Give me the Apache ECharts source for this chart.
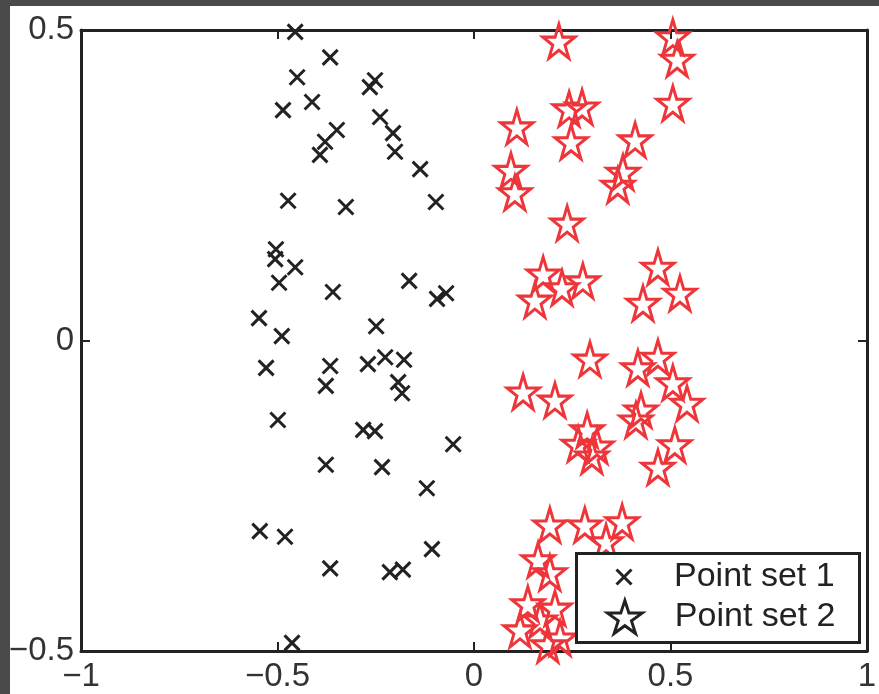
<!DOCTYPE html>
<html lang="en">
<head>
<meta charset="UTF-8">
<title>Point sets</title>
<script src="https://cdn.jsdelivr.net/npm/echarts@6/dist/echarts.min.js"></script>
<style>
  body { margin: 0; background: #4a4a4a; }
  #main { position: absolute; left: 10px; top: 6px; width: 869px; height: 688px; background: #fff; }
</style>
</head>
<body>
<div id="main"></div>
<script>
// point set 1 (black crosses)
const set1 = [
  [-0.455, 0.497], [-0.366, 0.456], [-0.450, 0.424], [-0.252, 0.419], [-0.265, 0.408],
  [-0.412, 0.384], [-0.486, 0.371], [-0.239, 0.360], [-0.349, 0.339], [-0.379, 0.320],
  [-0.392, 0.299], [-0.206, 0.334], [-0.201, 0.304], [-0.137, 0.276], [-0.473, 0.225],
  [-0.326, 0.215], [-0.097, 0.223], [-0.504, 0.147], [-0.506, 0.131], [-0.455, 0.118],
  [-0.496, 0.093], [-0.359, 0.078], [-0.165, 0.096], [-0.071, 0.076], [-0.094, 0.067],
  [-0.547, 0.036], [-0.489, 0.007], [-0.249, 0.023], [-0.529, -0.044], [-0.366, -0.041],
  [-0.270, -0.038], [-0.226, -0.027], [-0.178, -0.031], [-0.377, -0.073], [-0.193, -0.067],
  [-0.183, -0.085], [-0.499, -0.128], [-0.282, -0.144], [-0.252, -0.146], [-0.053, -0.167],
  [-0.377, -0.200], [-0.234, -0.204], [-0.120, -0.238], [-0.545, -0.307], [-0.481, -0.316],
  [-0.107, -0.336], [-0.366, -0.367], [-0.214, -0.373], [-0.181, -0.369], [-0.463, -0.487]
];
// point set 2 (red stars)
const set2 = [
  [0.216, 0.482], [0.506, 0.489], [0.517, 0.453], [0.506, 0.382], [0.242, 0.373],
  [0.275, 0.376], [0.247, 0.320], [0.109, 0.344], [0.094, 0.274], [0.104, 0.238],
  [0.410, 0.323], [0.379, 0.271], [0.366, 0.250], [0.237, 0.189], [0.176, 0.107],
  [0.277, 0.096], [0.224, 0.085], [0.155, 0.065], [0.468, 0.118], [0.524, 0.076],
  [0.430, 0.060], [0.295, -0.030], [0.468, -0.027], [0.417, -0.044], [0.506, -0.068],
  [0.542, -0.101], [0.125, -0.083], [0.206, -0.096], [0.288, -0.144], [0.265, -0.167],
  [0.313, -0.170], [0.300, -0.186], [0.425, -0.112], [0.412, -0.128], [0.511, -0.168],
  [0.468, -0.204], [0.193, -0.297], [0.282, -0.297], [0.377, -0.292], [0.336, -0.324],
  [0.163, -0.353], [0.193, -0.374], [0.137, -0.424], [0.206, -0.431], [0.168, -0.450],
  [0.117, -0.466], [0.219, -0.479], [0.188, -0.490]
];
const names = ['Point set 1', 'Point set 2'];
const xRange = [-1, 1];
const yRange = [-0.5, 0.5];

const crossPath = 'path://M0,0L10,10M10,0L0,10';
const starPath = 'path://M0,-100L22.45,-30.9L95.1,-30.9L36.3,11.8L58.8,80.9L0,38.2L-58.8,80.9L-36.3,11.8L-95.1,-30.9L-22.45,-30.9Z';

const ink = '#222';
const red = '#ee353a';
const font = "'Liberation Sans', Arial, sans-serif";
const fmt = v => String(v).replace('-', '\u2212');

function axis(pos, range, showLabel) {
  return {
    type: 'value', position: pos, min: range[0], max: range[1], interval: 0.5,
    axisLine: { show: true, onZero: false, lineStyle: { color: ink, width: 3 } },
    axisTick: { show: true, inside: true, length: 9, lineStyle: { color: ink, width: 2 } },
    axisLabel: {
      show: showLabel, formatter: fmt, color: '#333', fontSize: 33, fontFamily: font,
      margin: pos === 'bottom' ? 9 : 7, showMinLabel: true, showMaxLabel: true
    },
    splitLine: { show: false }
  };
}

const legendText = { fontSize: 34, lineHeight: 36, color: ink, fontFamily: font };

const option = {
  animation: false,
  grid: { left: 71, top: 24, right: 12, bottom: 43, outerBoundsMode: 'none', containLabel: false },
  xAxis: [axis('bottom', xRange, true), axis('top', xRange, false)],
  yAxis: [axis('left', yRange, true), axis('right', yRange, false)],
  legend: [
    {
      data: [{ name: names[0], itemStyle: { color: 'transparent', borderColor: ink, borderWidth: 3 } }],
      left: 605, top: 553, padding: 0, itemWidth: 90, itemHeight: 15, z: 10,
      textStyle: legendText
    },
    {
      data: [{ name: names[1], itemStyle: { color: 'transparent', borderColor: ink, borderWidth: 3 } }],
      left: 596, top: 593, padding: 0, itemWidth: 90, itemHeight: 33, z: 10,
      textStyle: legendText
    }
  ],
  graphic: [{
    type: 'rect', left: 565, top: 546, z: 6,
    shape: { width: 283, height: 89 },
    style: { fill: '#fff', stroke: ink, lineWidth: 3 }
  }],
  series: [
    {
      name: names[0], type: 'scatter', data: set1,
      symbol: crossPath, symbolSize: 15,
      itemStyle: { color: 'transparent', borderColor: ink, borderWidth: 3, opacity: 1 }
    },
    {
      name: names[1], type: 'scatter', data: set2,
      symbol: starPath, symbolSize: [32, 34],
      itemStyle: { color: 'transparent', borderColor: red, borderWidth: 3, opacity: 1 }
    }
  ]
};

const chart = echarts.init(document.getElementById('main'));
chart.setOption(option);
</script>
</body>
</html>
